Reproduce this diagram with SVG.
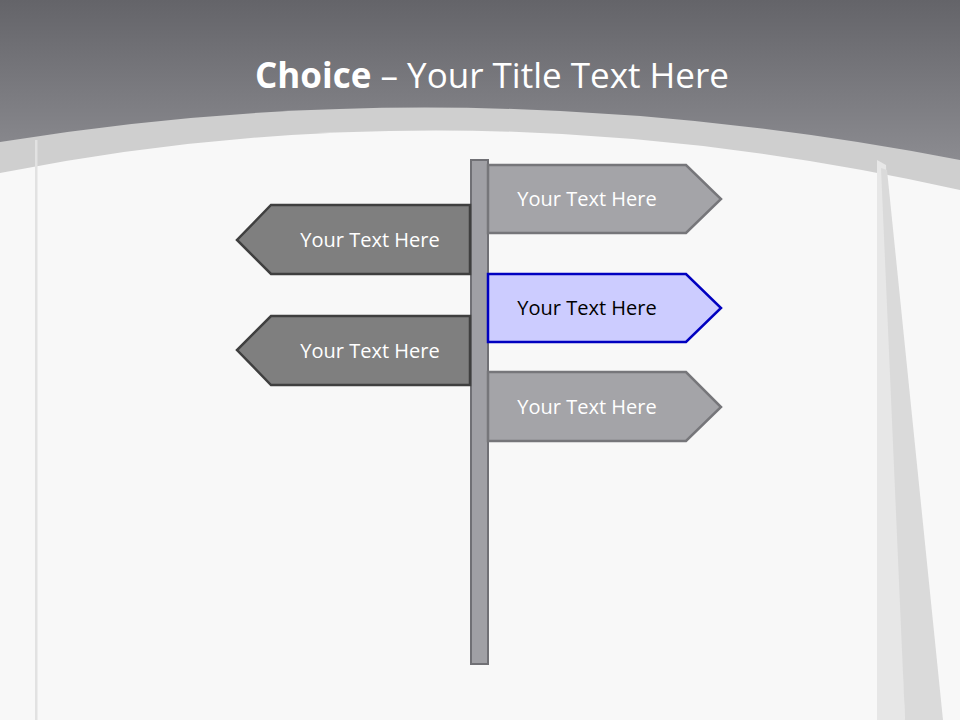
<svg xmlns="http://www.w3.org/2000/svg" width="960" height="720" viewBox="0 0 960 720">
<defs>
<linearGradient id="bg" x1="0" y1="0" x2="0" y2="1">
<stop offset="0" stop-color="#646469"/>
<stop offset="1" stop-color="#95959a"/>
</linearGradient>
<style>
.t{font-family:"Open Sans","Noto Sans",sans-serif;font-size:20px;text-anchor:middle}
.w{fill:#ffffff}
.rs{fill:#a4a4a8;stroke:#76767a;stroke-width:2.5}
.ls{fill:#7f7f7f;stroke:#3f3f3f;stroke-width:2.5}
.bs{fill:#ccccff;stroke:#0000c0;stroke-width:2.5}
</style>
</defs>
<rect x="0" y="0" width="960" height="200" fill="url(#bg)"/>
<path d="M0,142 Q470,65 960,160 L960,720 L0,720 Z" fill="#cfcfcf"/>
<path d="M0,173 Q470,80 960,190 L960,720 L0,720 Z" fill="#f8f8f8"/>
<rect x="35" y="140" width="2.5" height="580" fill="#e2e2e2"/>
<polygon points="877,160 886,165 905,720 877,720" fill="#e7e7e7"/>
<polygon points="881,168 887,170 943,720 905,720" fill="#dadada"/>
<text x="492" y="88" font-family="Open Sans, Noto Sans, sans-serif" font-size="35" fill="#ffffff" text-anchor="middle"><tspan font-weight="bold">Choice</tspan> – Your Title Text Here</text>
<g id="pole"><rect x="471" y="160" width="17" height="504" fill="#a0a0a5" stroke="#707075" stroke-width="2"/></g>
<g id="sign-r1"><polygon class="rs" points="488,165 686,165 721,199 686,233 488,233"/><text class="t w" x="587" y="206">Your Text Here</text></g>
<g id="sign-l1"><polygon class="ls" points="470,205 271,205 237,240 271,274 470,274"/><text class="t w" x="370" y="247">Your Text Here</text></g>
<g id="sign-r2"><polygon class="bs" points="488,274 686,274 721,308 686,342 488,342"/><text class="t" x="587" y="315" fill="#000000">Your Text Here</text></g>
<g id="sign-l2"><polygon class="ls" points="470,316 271,316 237,350 271,385 470,385"/><text class="t w" x="370" y="358">Your Text Here</text></g>
<g id="sign-r3"><polygon class="rs" points="488,372 686,372 721,407 686,441 488,441"/><text class="t w" x="587" y="414">Your Text Here</text></g>
<g id="connectors"/>
</svg>
